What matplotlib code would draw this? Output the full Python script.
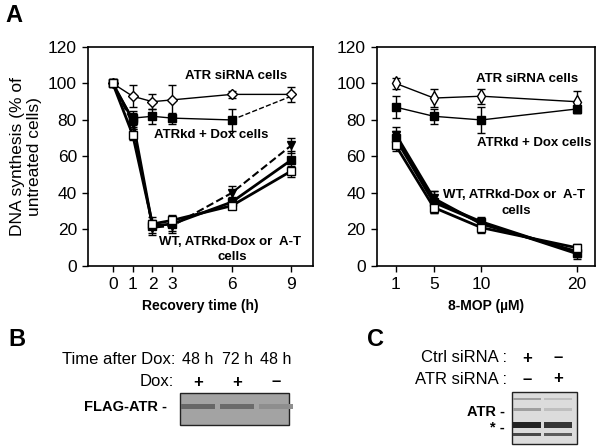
import matplotlib
matplotlib.use("Agg")
import matplotlib.pyplot as plt
from matplotlib.patches import Rectangle

plt.rcParams['font.family'] = ['Liberation Sans', 'DejaVu Sans']

# panel A, left: recovery time course
time_h = [0, 1, 2, 3, 6, 9]
atr_sirna = [100, 93, 90, 91, 94, 94]
atr_sirna_err = [0, 6, 4, 8, 2, 4]
atrkd_dox = [100, 81, 82, 81, 80, 93]
atrkd_dox_err = [0, 4, 4, 3, 6, 3]
wt = [100, 80, 22, 23, 35, 58]
wt_err = [0, 4, 5, 4, 3, 5]
atrkd_nodox = [100, 78, 21, 22, 40, 66]
atrkd_nodox_err = [0, 3, 3, 4, 4, 4]
at_cells = [100, 72, 23, 25, 33, 52]
at_cells_err = [0, 3, 2, 3, 2, 3]

# panel A, right: 8-MOP dose
dose = [1, 5, 10, 20]
atr_sirna_mop = [100, 92, 93, 90]
atr_sirna_mop_err = [3, 5, 4, 6]
atrkd_dox_mop = [87, 82, 80, 86]
atrkd_dox_mop_err = [6, 4, 7, 2]
wt_mop = [70, 35, 24, 7]
wt_mop_err = [4, 6, 3, 3]
atrkd_nodox_mop = [72, 37, 23, 8]
atrkd_nodox_mop_err = [4, 4, 3, 3]
at_mop = [66, 32, 21, 10]
at_mop_err = [3, 3, 3, 2]

# panels B and C: lane labels and band strength (0..1)
b_time = ['48 h', '72 h', '48 h']
b_dox = ['+', '+', '\u2013']
b_band = [0.75, 0.7, 0.25]
c_ctrl = ['+', '\u2013']
c_atr = ['\u2013', '+']
c_atr_band = [0.45, 0.2]
c_star_band = [0.95, 0.85]

fig = plt.figure(figsize=(6, 4.47), dpi=100)


def err(ax, x, y, e, marker, mfc, ls='-', lw=1.0, ms=6):
    ax.errorbar(x, y, yerr=e, color='black', marker=marker, mfc=mfc, mec='black',
                ms=ms, lw=lw, ls=ls, capsize=3, elinewidth=1, capthick=1, zorder=3)


def style(ax, xticks, xlim, xlabel):
    ax.set_ylim(0, 120)
    ax.set_yticks(range(0, 121, 20))
    ax.set_xlim(*xlim)
    ax.set_xticks(xticks)
    ax.tick_params(labelsize=12.5, length=4, width=1, direction='out', pad=4)
    for s in ax.spines.values():
        s.set_linewidth(1.2)
    ax.set_xlabel(xlabel, fontsize=10, fontweight='bold', labelpad=5)


ax1 = fig.add_axes([0.1467, 0.405, 0.375, 0.49])
err(ax1, time_h, atr_sirna, atr_sirna_err, 'D', 'white', ms=5.5)
err(ax1, time_h[:5], atrkd_dox[:5], atrkd_dox_err[:5], 's', 'black')
ax1.plot(time_h[4:], atrkd_dox[4:], color='black', ls='--', lw=1)
err(ax1, time_h, wt, wt_err, 's', 'black', lw=2)
err(ax1, time_h, atrkd_nodox, atrkd_nodox_err, 'v', 'black', ls='--', lw=1.5)
err(ax1, time_h, at_cells, at_cells_err, 's', 'white', lw=2)
style(ax1, time_h, (-1.25, 10.1), 'Recovery time (h)')
ax1.set_ylabel('DNA synthesis (% of\nuntreated cells)', fontsize=12.5, labelpad=4)
kw = dict(fontsize=9.5, fontweight='bold', ha='center', va='center')
ax1.text(6.2, 104, 'ATR siRNA cells', **kw)
ax1.text(4.95, 72, 'ATRkd + Dox cells', **kw)
ax1.text(5.9, 13.2, 'WT, ATRkd-Dox or  A-T', **kw)
ax1.text(6.05, 4.9, 'cells', **kw)

ax2 = fig.add_axes([0.628, 0.405, 0.363, 0.49])
err(ax2, dose, atr_sirna_mop, atr_sirna_mop_err, 'd', 'white', ms=7)
err(ax2, dose, atrkd_dox_mop, atrkd_dox_mop_err, 's', 'black')
err(ax2, dose, wt_mop, wt_mop_err, 's', 'black', lw=2.5)
err(ax2, dose, atrkd_nodox_mop, atrkd_nodox_mop_err, 'v', 'black', lw=2)
err(ax2, dose, at_mop, at_mop_err, 's', 'white', lw=2)
style(ax2, dose, (-1.0, 21.9), '8-MOP (\u00b5M)')
ax2.text(14.85, 102.5, 'ATR siRNA cells', **kw)
ax2.text(15.5, 67.4, 'ATRkd + Dox cells', **kw)
ax2.text(13.4, 38.9, 'WT, ATRkd-Dox or  A-T', **kw)
ax2.text(13.7, 30, 'cells', **kw)

# overlay in pixel units for panel letters and blots
ov = fig.add_axes([0, 0, 1, 1], facecolor='none')
ov.set_xlim(0, 600)
ov.set_ylim(447, 0)
ov.axis('off')

for letter, x, y in [('A', 14, 15), ('B', 17, 340), ('C', 375, 340)]:
    ov.text(x, y, letter, fontsize=17, fontweight='bold', ha='center', va='center')

# panel B
lab = dict(fontsize=12, ha='right', va='center')
ov.text(175, 360, 'Time after Dox:', **lab)
ov.text(174, 382, 'Dox:', **lab)
ov.text(167, 407, 'FLAG-ATR -', fontsize=10.5, fontweight='bold', ha='right', va='center')
b_lanes = [198, 237, 276]
for x, t, d in zip(b_lanes, b_time, b_dox):
    ov.text(x, 360, t, fontsize=11.5, ha='center', va='center')
    ov.text(x, 382, d, fontsize=12, fontweight='bold', ha='center', va='center')
ov.add_patch(Rectangle((180, 393), 109, 32, facecolor='#a3a3a3', edgecolor='#222222', lw=1))
for x, b in zip(b_lanes, b_band):
    g = 0.63 - 0.3 * b
    ov.add_patch(Rectangle((x - 17, 404), 34, 5, facecolor=(g, g, g), edgecolor='none'))

# panel C
ov.text(507, 358, 'Ctrl siRNA :', **lab)
ov.text(507, 379, 'ATR siRNA :', **lab)
ov.text(505, 412, 'ATR -', fontsize=10.5, fontweight='bold', ha='right', va='center')
ov.text(505, 428, '* -', fontsize=10.5, fontweight='bold', ha='right', va='center')
c_lanes = [527, 558]
for x, a, b in zip(c_lanes, c_ctrl, c_atr):
    ov.text(x, 358, a, fontsize=12, fontweight='bold', ha='center', va='center')
    ov.text(x, 379, b, fontsize=12, fontweight='bold', ha='center', va='center')
ov.add_patch(Rectangle((512, 392), 65, 52, facecolor='#dcdcdc', edgecolor='#222222', lw=1))
for x, a, s in zip(c_lanes, c_atr_band, c_star_band):
    ga = 0.85 - 0.5 * a
    gs = 0.85 - 0.75 * s
    ov.add_patch(Rectangle((x - 14, 398), 28, 2, facecolor=(ga, ga, ga), edgecolor='none'))
    ov.add_patch(Rectangle((x - 14, 408), 28, 3, facecolor=(ga, ga, ga), edgecolor='none'))
    ov.add_patch(Rectangle((x - 14, 422), 28, 6, facecolor=(gs, gs, gs), edgecolor='none'))
    ov.add_patch(Rectangle((x - 14, 433), 28, 3, facecolor=(gs + 0.15, gs + 0.15, gs + 0.15), edgecolor='none'))

fig.savefig('out.png', dpi=100)
